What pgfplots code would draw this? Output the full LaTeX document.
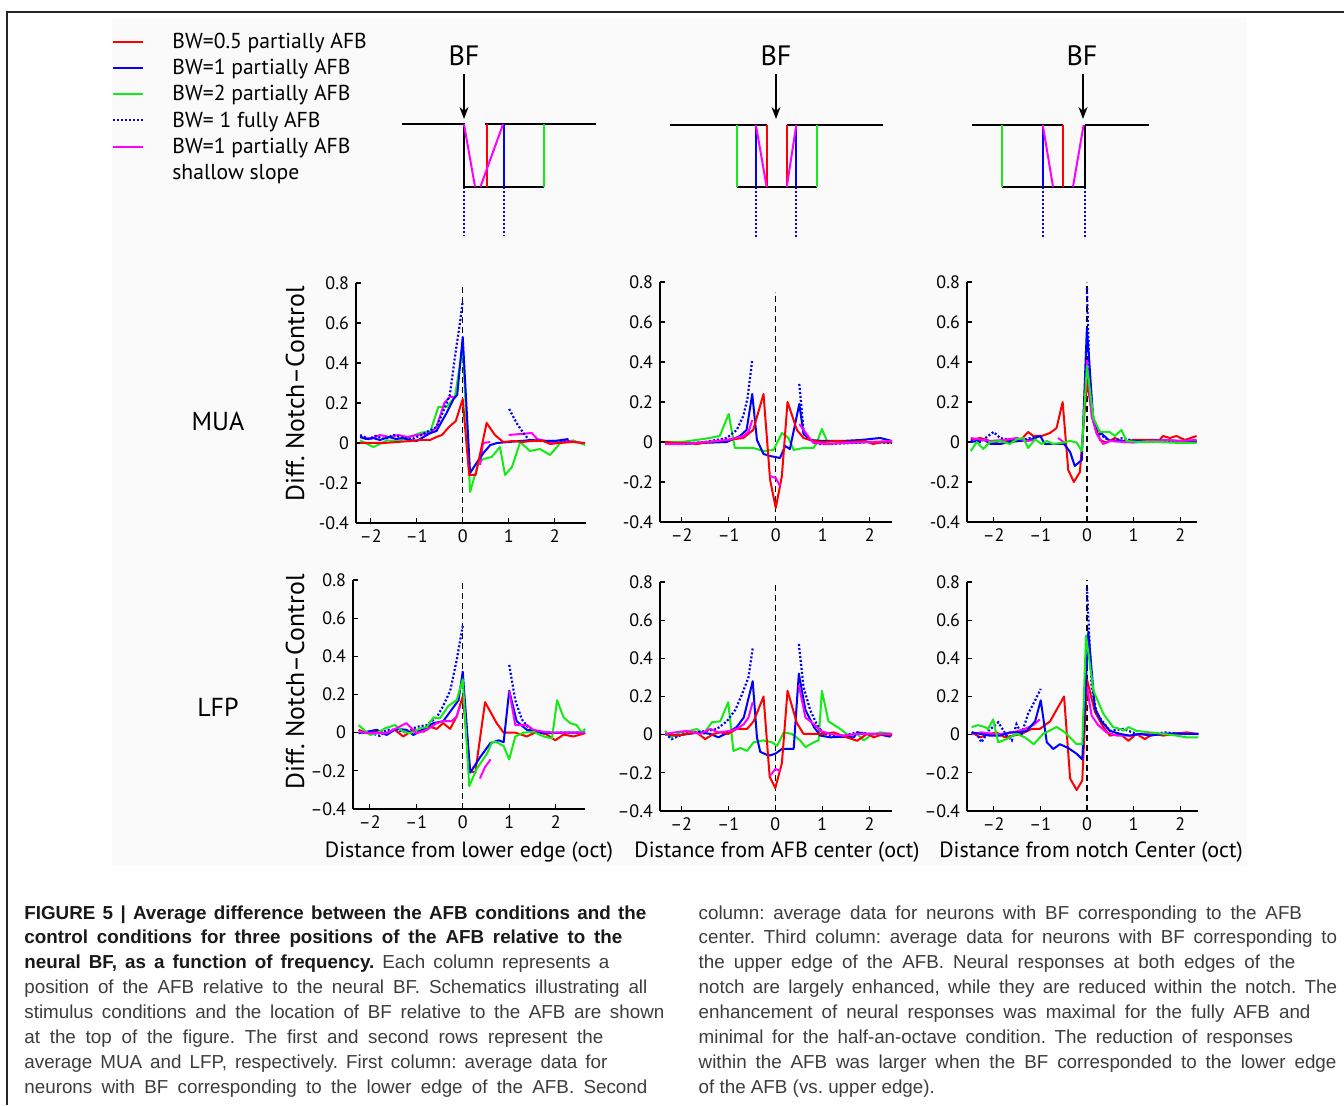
\documentclass[border=0pt]{standalone}
\usepackage{fontspec}
\setmainfont{PT Sans}
\newfontfamily\capfont{Liberation Sans}
\usepackage{pgfplots}
\pgfplotsset{compat=1.18}
\usetikzlibrary{arrows.meta}
\definecolor{cR}{RGB}{255,0,0}
\definecolor{cB}{RGB}{0,0,255}
\definecolor{cG}{RGB}{20,235,20}
\definecolor{cM}{RGB}{255,0,255}
\definecolor{bgfig}{RGB}{250,250,250}
\definecolor{capgray}{RGB}{60,60,60}
\pgfplotsset{
  panel/.style={scale only axis, anchor=south west, axis lines*=left,
    ymin=-0.4, ymax=0.8, ytick={-0.4,-0.2,0,0.2,0.4,0.6,0.8},
    xtick={-2,-1,0,1,2}, xticklabels={–2,–1,0,1,2},
    tick align=inside, major tick length=2.5pt,
    every tick/.style={black,line width=0.6pt},
    axis line style={black,line width=0.75pt},
    tick label style={font=\fontsize{9}{10}\selectfont},
    unbounded coords=jump, clip=false},
  r1/.style={panel, yticklabels={-0.4,-0.2,0,0.2,0.4,0.6,0.8}},
  r2/.style={panel, yticklabels={–0.4,–0.2,0,0.2,0.4,0.6,0.8}},
  sR/.style={cR, line width=1pt, line join=round},
  sB/.style={cB, line width=1pt, line join=round},
  sG/.style={cG, line width=1pt, line join=round},
  sM/.style={cM, line width=1pt, line join=round},
  sD/.style={cB, line width=1.1pt, dash pattern=on 1pt off 1pt},
  zl/.style={black, line width=0.6pt, dash pattern=on 3pt off 2pt},
}
\begin{document}
\frenchspacing
\begin{tikzpicture}[x=0.5pt,y=0.5pt]
\useasboundingbox (0,0) rectangle (1344,1105);
\fill[bgfig] (112,239) rectangle (1247,1087);
\draw[line width=1.2pt, black!85] (7,0) -- (7,1093) -- (1344,1093);

% ---------- legend ----------
\draw[cR, line width=1pt] (113,1063.3) -- (143,1063.3);
\draw[cB, line width=1pt] (113,1037.05) -- (143,1037.05);
\draw[cG, line width=1pt] (113,1010.8) -- (143,1010.8);
\draw[cB, line width=1pt, dash pattern=on 1pt off 1pt] (113,984.55) -- (143,984.55);
\draw[cM, line width=1pt] (113,958.3) -- (143,958.3);
\begin{scope}[every node/.style={anchor=base west, inner sep=0, font=\fontsize{10.8}{12}\selectfont}]
\node at (172,1056.6) {BW=0.5 partially AFB};
\node at (172,1030.35) {BW=1 partially AFB};
\node at (172,1004.1) {BW=2 partially AFB};
\node at (172,977.85) {BW= 1 fully AFB};
\node at (172,951.6) {BW=1 partially AFB};
\node at (172,925.35) {shallow slope};
\end{scope}

% ---------- schematics ----------
\begin{scope}[line width=1pt]
% 1: lower edge
\draw[cB, dash pattern=on 1pt off 1pt] (464,918.3) -- (464,869) (504.3,918.3) -- (504.3,869);
\draw[black] (402.4,980.7) -- (464,980.7) -- (464,918.3) -- (544,918.3);
\draw[black] (485,980.7) -- (596.3,980.7);
\draw[cR] (486.6,918.3) -- (486.6,980.7);
\draw[cB] (504.3,918.3) -- (504.3,980.7);
\draw[cG] (544,918.3) -- (544,980.7);
\draw[cM] (464,980.7) -- (475,918.3) (480.5,918.3) -- (503,980.7);
% 2: center
\draw[cB, dash pattern=on 1pt off 1pt] (755.9,918.3) -- (755.9,868) (796.3,918.3) -- (796.3,868);
\draw[black] (670,980) -- (766.6,980) (786.8,980) -- (883.4,980) (737.4,918.3) -- (816.5,918.3);
\draw[cG] (737.4,918.3) -- (737.4,980) (816.5,918.3) -- (816.5,980);
\draw[cB] (755.9,918.3) -- (755.9,980) (796.3,918.3) -- (796.3,980);
\draw[cR] (766.6,918.3) -- (766.6,980) (786.8,918.3) -- (786.8,980);
\draw[cM] (755.9,980) -- (766.6,918.3) (786.8,918.3) -- (796.3,980);
% 3: upper edge
\draw[cB, dash pattern=on 1pt off 1pt] (1042.8,918.3) -- (1042.8,868) (1084.5,918.3) -- (1084.5,868);
\draw[black] (972.3,980) -- (1063,980) (1084.5,980) -- (1148.8,980);
\draw[black] (1001.5,918.3) -- (1084.5,918.3) -- (1084.5,980);
\draw[cG] (1001.5,918.3) -- (1001.5,980);
\draw[cB] (1042.8,918.3) -- (1042.8,980);
\draw[cR] (1062.5,918.3) -- (1062.5,980);
\draw[cM] (1042.8,980) -- (1053,918.3) (1073,918.3) -- (1083.6,980);
\end{scope}
\begin{scope}[every node/.style={font=\fontsize{14}{15}\selectfont, inner sep=0}]
\node at (464,1049) {BF};
\node at (776,1049) {BF};
\node at (1082,1049) {BF};
\end{scope}
\draw[-{Stealth[length=6pt,width=4.5pt]}, line width=0.7pt] (464,1031) -- (464,986);
\draw[-{Stealth[length=6pt,width=4.5pt]}, line width=0.7pt] (776,1031) -- (776,986);
\draw[-{Stealth[length=6pt,width=4.5pt]}, line width=0.7pt] (1083,1031) -- (1083,986);

% ---------- row / axis labels ----------
\node[font=\fontsize{13}{14}\selectfont] at (218,683.5) {MUA};
\node[font=\fontsize{13}{14}\selectfont] at (218,397.5) {LFP};
\node[rotate=90, font=\fontsize{12.9}{14}\selectfont] at (295,711) {Diff. Notch–Control};
\node[rotate=90, font=\fontsize{12.9}{14}\selectfont] at (295,423) {Diff. Notch–Control};
\node[font=\fontsize{11}{12}\selectfont] at (469,253) {Distance from lower edge (oct)};
\node[font=\fontsize{11}{12}\selectfont] at (777,253) {Distance from AFB center (oct)};
\node[font=\fontsize{11}{12}\selectfont] at (1091,253) {Distance from notch Center (oct)};

% ---------- P1 MUA lower edge ----------
\begin{axis}[r1, at={(178pt,291pt)}, width=115pt, height=120pt, xmin=-2.32, xmax=2.68]
\addplot[zl] coordinates {(0,-0.4) (0,0.78)};
\addplot[sG] coordinates {(-2.23,0.013) (-1.94,-0.02) (-1.65,0.013) (-1.4,0.01) (-1.15,0.03) (-0.93,0.05) (-0.7,0.06) (-0.53,0.18) (-0.35,0.18) (-0.17,0.23) (0,0.48) (0.16,-0.245) (0.34,-0.1) (0.45,-0.08) (0.63,-0.07) (0.81,-0.02) (0.92,-0.16) (1.07,-0.12) (1.25,0.005) (1.46,-0.04) (1.68,-0.03) (1.9,-0.06) (2.12,0) (2.4,0.013) (2.66,-0.01)};
\addplot[sM] coordinates {(-2.23,0.03) (-2.0,0.02) (-1.8,0.04) (-1.6,0.03) (-1.4,0.04) (-1.2,0.03) (-1.0,0.04) (-0.7,0.05) (-0.57,0.08) (-0.4,0.2) (-0.28,0.23) (-0.17,0.23) (0.1,nan) (0.38,-0.11) (0.44,0.0) (0.6,0.005) (0.8,nan) (1.0,0.04) (1.25,0.045) (1.5,0.05) (1.62,0.02) (1.8,0.01) (2.0,0.0) (2.3,0.01) (2.6,0.0)};
\addplot[sD] coordinates {(-2.23,0.04) (-2.05,0.02) (-1.9,0.035) (-1.7,0.02) (-1.5,0.04) (-1.3,0.025) (-1.1,0.02) (-0.9,0.04) (-0.57,0.08) (-0.42,0.16) (-0.28,0.24) (-0.17,0.43) (-0.06,0.6) (0,0.71) (0.5,nan) (1.01,0.17) (1.17,0.1) (1.32,0.05) (1.46,0.01) (1.7,0.01) (2.0,0.01) (2.3,0.01)};
\addplot[sB] coordinates {(-2.23,0.03) (-2.1,0.02) (-1.95,0.025) (-1.8,0.015) (-1.6,0.03) (-1.45,0.02) (-1.3,0.025) (-1.15,0.015) (-1.0,0.01) (-0.85,0.03) (-0.7,0.05) (-0.57,0.06) (-0.45,0.11) (-0.35,0.15) (-0.2,0.22) (-0.12,0.24) (0,0.53) (0.16,-0.15) (0.3,-0.1) (0.45,-0.05) (0.6,-0.01) (0.75,0) (1.0,0.005) (1.25,0.01) (1.5,0.015) (1.75,0.01) (2.0,0.01) (2.3,0.02)};
\addplot[sR] coordinates {(-2.23,0) (-2.01,0) (-1.72,0) (-1.43,0.005) (-1.14,0.01) (-0.93,0.015) (-0.71,0.015) (-0.57,0.03) (-0.45,0.04) (-0.3,0.08) (-0.15,0.11) (0,0.22) (0.14,-0.16) (0.28,-0.16) (0.52,0.1) (0.7,0.04) (0.88,0.005) (1.1,0.01) (1.3,0.005) (1.5,0.01) (1.75,0.01) (1.9,-0.005) (2.1,0) (2.4,0.005) (2.66,0)};
\end{axis}

% ---------- P2 MUA center ----------
\begin{axis}[r1, at={(330pt,291.5pt)}, width=116pt, height=120pt, xmin=-2.46, xmax=2.47]
\addplot[zl] coordinates {(0,-0.4) (0,0.75)};
\addplot[sG] coordinates {(-2.35,0) (-2.0,0) (-1.54,0.015) (-1.4,0.02) (-1.19,0.03) (-1.0,0.14) (-0.87,-0.03) (-0.7,-0.03) (-0.48,-0.03) (-0.26,-0.045) (-0.05,-0.04) (0.13,0.045) (0.27,0.02) (0.38,-0.04) (0.59,-0.03) (0.8,-0.03) (0.87,-0.005) (0.98,0.065) (1.09,0.005) (1.4,0.0) (1.7,-0.005) (2.0,0.0) (2.47,-0.005)};
\addplot[sD] coordinates {(-2.35,-0.01) (-2.0,-0.01) (-1.5,0.0) (-1.04,0.02) (-0.83,0.06) (-0.69,0.13) (-0.6,0.22) (-0.5,0.41) (0,nan) (0.5,0.29) (0.59,0.06) (0.73,0.01) (0.9,-0.01) (1.2,-0.01) (1.6,-0.005) (2.0,0.0) (2.47,-0.005)};
\addplot[sB] coordinates {(-2.35,-0.01) (-2.0,-0.01) (-1.6,-0.005) (-1.04,0.0) (-0.76,0.03) (-0.62,0.06) (-0.5,0.24) (-0.4,0.01) (-0.26,-0.06) (-0.12,-0.07) (0.09,-0.08) (0.2,-0.02) (0.3,-0.035) (0.5,0.19) (0.59,0.04) (0.73,0.01) (1.0,0.005) (1.4,0.005) (1.8,0.01) (2.22,0.02) (2.47,0.005)};
\addplot[sR] coordinates {(-2.35,0) (-2.1,-0.005) (-1.85,-0.005) (-1.68,-0.01) (-1.4,0) (-1.04,0.01) (-0.69,0.02) (-0.48,0.06) (-0.26,0.24) (-0.12,-0.19) (0,-0.33) (0.13,-0.17) (0.25,0.2) (0.45,0.06) (0.59,0.02) (0.8,0.005) (1.0,0.0) (1.3,0.005) (1.6,0.0) (1.9,0.005) (2.07,-0.01) (2.25,0.0) (2.47,0.0)};
\addplot[sM] coordinates {(-2.35,-0.01) (-2.0,-0.01) (-1.5,0) (-1.04,0.01) (-0.69,0.03) (-0.58,0.05) (-0.5,0.11) (-0.3,nan) (-0.12,-0.17) (0,-0.18) (0.09,-0.22) (0.3,nan) (0.5,0.09) (0.62,0.05) (0.8,-0.005) (1.1,-0.01) (1.5,-0.005) (2.0,0.0) (2.47,0.005)};
\end{axis}

% ---------- P3 MUA notch ----------
\begin{axis}[r1, at={(483.5pt,291.5pt)}, width=115pt, height=120pt, xmin=-2.57, xmax=2.36]
\addplot[zl] coordinates {(0,-0.4) (0,0.8)};
\addplot[sR] coordinates {(-2.49,0.01) (-2.29,0.02) (-2.08,0.005) (-1.86,-0.01) (-1.65,0.01) (-1.44,0.005) (-1.26,0.05) (-1.15,0.03) (-0.97,0.03) (-0.79,0.045) (-0.65,0.07) (-0.52,0.2) (-0.4,-0.14) (-0.28,-0.2) (-0.15,-0.15) (0,0.3) (0.14,0.11) (0.28,0.01) (0.42,-0.003) (0.6,0.02) (0.78,0.0) (1.0,0.01) (1.3,0.01) (1.56,0.01) (1.63,0.03) (1.78,0.02) (1.92,0.03) (2.1,0.01) (2.35,0.03)};
\addplot[sD] coordinates {(-2.49,0.005) (-2.29,0) (-2.0,0.05) (-1.86,0.02) (-1.65,0.01) (-1.4,0.01) (-1.22,0.02) (-1.0,0.03) (-0.5,nan) (0,0.77) (0.07,0.2) (0.2,0.05) (0.49,0.005) (0.78,0.02) (1.07,0.0) (1.4,0.0) (1.7,0.005) (2.0,0.0) (2.35,0.0)};
\addplot[sB] coordinates {(-2.49,0) (-2.2,0.01) (-2.06,-0.01) (-1.86,-0.01) (-1.65,0) (-1.44,0.005) (-1.22,0.01) (-1.0,0.03) (-0.9,-0.01) (-0.65,-0.01) (-0.49,-0.01) (-0.36,-0.05) (-0.26,-0.12) (-0.11,-0.09) (0,0.57) (0.14,0.1) (0.28,0.05) (0.49,0.005) (0.8,0.005) (1.2,0.005) (1.6,0.01) (2.0,0.005) (2.35,0.005)};
\addplot[sM] coordinates {(-2.49,0.02) (-2.36,0.015) (-2.08,0.005) (-1.8,0.01) (-1.5,0.02) (-1.3,0.005) (-1.1,0.01) (-0.8,nan) (-0.62,0.02) (-0.5,0.0) (-0.3,nan) (0,0.41) (0.1,0.13) (0.21,0.04) (0.35,-0.01) (0.49,0.005) (0.78,0.0) (1.0,-0.003) (1.3,0.005) (1.7,0.01) (2.0,0.005) (2.35,0.01)};
\addplot[sG] coordinates {(-2.49,-0.045) (-2.36,0) (-2.22,-0.035) (-2.08,0) (-1.86,0.005) (-1.65,-0.01) (-1.51,0.013) (-1.36,0.02) (-1.26,-0.03) (-1.11,0.013) (-0.97,-0.01) (-0.86,0.005) (-0.72,-0.01) (-0.51,-0.003) (-0.36,0.005) (-0.22,-0.003) (-0.11,-0.045) (0,0.38) (0.14,0.12) (0.28,0.05) (0.49,0.05) (0.6,0.03) (0.74,0.06) (0.85,0.005) (1.1,0.0) (1.5,0.0) (2.0,-0.005) (2.35,-0.005)};
\end{axis}

% ---------- P4 LFP lower edge ----------
\begin{axis}[r2, at={(176.5pt,148pt)}, width=116pt, height=114.5pt, xmin=-2.36, xmax=2.63]
\addplot[zl] coordinates {(0,-0.4) (0,0.79)};
\addplot[sR] coordinates {(-2.24,0.015) (-2.06,-0.003) (-1.85,0.005) (-1.64,-0.003) (-1.46,0.015) (-1.28,-0.02) (-1.06,0.015) (-0.84,0.005) (-0.7,0.03) (-0.56,0.02) (-0.42,0.05) (-0.27,0.02) (-0.13,0.085) (0,0.19) (0.16,-0.2) (0.27,-0.21) (0.48,0.16) (0.73,0.05) (0.88,0.0) (1.13,0.0) (1.38,-0.02) (1.59,0.005) (1.81,-0.01) (1.99,-0.04) (2.17,-0.01) (2.38,-0.02) (2.63,-0.003)};
\addplot[sD] coordinates {(-2.24,0.0) (-1.99,0.0) (-1.78,-0.017) (-1.64,0.015) (-1.43,0.015) (-1.21,0.0) (-1.0,0.03) (-0.77,0.04) (-0.56,0.08) (-0.42,0.14) (-0.27,0.22) (-0.13,0.38) (0,0.56) (0.5,nan) (1.0,0.355) (1.13,0.17) (1.27,0.07) (1.45,0.015) (1.59,0.0) (2.0,0.0) (2.63,0.0)};
\addplot[sB] coordinates {(-2.24,-0.003) (-2.06,0.005) (-1.85,0.015) (-1.64,-0.012) (-1.43,0.02) (-1.21,0.015) (-1.06,-0.012) (-0.84,0.02) (-0.63,0.05) (-0.42,0.06) (-0.24,0.12) (-0.09,0.17) (0,0.32) (0.16,-0.21) (0.37,-0.13) (0.59,-0.056) (0.77,-0.04) (0.88,-0.05) (1.0,0.22) (1.16,0.06) (1.38,0.015) (1.59,0.005) (1.81,-0.003) (2.1,0.0) (2.63,0.0)};
\addplot[sG] coordinates {(-2.24,0.04) (-2.13,0.015) (-1.99,-0.012) (-1.85,-0.003) (-1.67,0.023) (-1.46,0.04) (-1.28,0.005) (-1.13,-0.003) (-0.91,0.023) (-0.77,0.03) (-0.63,0.08) (-0.49,0.075) (-0.31,0.14) (-0.13,0.17) (0,0.28) (0.14,-0.28) (0.3,-0.19) (0.52,-0.11) (0.63,-0.05) (0.73,-0.05) (0.88,-0.07) (1.0,-0.14) (1.13,-0.02) (1.31,0.0) (1.52,0.005) (1.74,-0.02) (1.92,-0.03) (2.03,0.17) (2.17,0.08) (2.31,0.05) (2.45,0.04) (2.56,0.0) (2.63,0.02)};
\addplot[sM] coordinates {(-2.24,0.005) (-1.99,-0.003) (-1.64,-0.003) (-1.43,0.023) (-1.21,0.05) (-1.0,-0.003) (-0.77,0.015) (-0.56,0.05) (-0.42,0.06) (-0.24,0.06) (-0.13,0.085) (-0.06,0.14) (0.2,nan) (0.37,-0.24) (0.48,-0.18) (0.6,-0.14) (0.8,nan) (1.0,0.22) (1.13,0.04) (1.38,0.04) (1.52,0.015) (1.74,0.005) (2.0,0.0) (2.63,0.0)};
\end{axis}

% ---------- P5 LFP center ----------
\begin{axis}[r2, at={(330pt,147pt)}, width=116pt, height=114.5pt, xmin=-2.45, xmax=2.48]
\addplot[zl] coordinates {(0,-0.4) (0,0.79)};
\addplot[sG] coordinates {(-2.34,0.02) (-2.23,-0.014) (-2.02,0.012) (-1.81,0.02) (-1.67,0.03) (-1.52,0.004) (-1.35,0.065) (-1.17,0.07) (-1.0,0.17) (-0.89,-0.085) (-0.74,-0.07) (-0.6,-0.085) (-0.46,-0.04) (-0.25,-0.03) (-0.07,-0.04) (0.04,-0.058) (0.18,0.012) (0.35,0.004) (0.53,-0.03) (0.64,-0.065) (0.82,-0.04) (0.92,-0.03) (0.99,0.23) (1.13,0.07) (1.38,0.03) (1.56,-0.005) (1.74,0.004) (1.88,-0.03) (2.02,-0.005) (2.23,0.012) (2.48,0.004)};
\addplot[sD] coordinates {(-2.34,0.004) (-2.2,-0.023) (-1.95,0.004) (-1.7,0.012) (-1.45,0.02) (-1.24,0.03) (-1.03,0.07) (-0.85,0.13) (-0.71,0.21) (-0.57,0.3) (-0.48,0.455) (0,nan) (0.5,0.475) (0.6,0.25) (0.74,0.13) (0.89,0.05) (1.03,0.004) (1.24,-0.005) (1.45,-0.005) (1.74,0.012) (2.0,0.004) (2.48,0.004)};
\addplot[sB] coordinates {(-2.34,0.004) (-2.09,-0.005) (-1.84,0.004) (-1.6,0.012) (-1.38,0.004) (-1.21,-0.014) (-1.0,0.012) (-0.82,0.04) (-0.67,0.09) (-0.48,0.28) (-0.39,-0.014) (-0.32,-0.09) (-0.14,-0.11) (0,-0.1) (0.14,-0.075) (0.39,-0.075) (0.5,0.32) (0.64,0.13) (0.82,0.04) (0.96,-0.005) (1.17,-0.014) (1.38,-0.011) (1.67,-0.014) (1.74,0.012) (1.95,0.004) (2.16,0.004) (2.45,-0.011)};
\addplot[sR] coordinates {(-2.34,0.004) (-2.09,-0.005) (-1.88,0.004) (-1.67,0.012) (-1.49,-0.023) (-1.31,0.004) (-1.17,0.012) (-1.0,0.004) (-0.82,0.03) (-0.6,0.03) (-0.46,0.07) (-0.25,0.2) (-0.12,-0.22) (0,-0.28) (0.14,-0.15) (0.26,0.23) (0.46,0.06) (0.6,0.004) (0.82,0.004) (1.04,0.004) (1.24,0.012) (1.52,-0.014) (1.74,-0.032) (1.95,0.004) (2.09,-0.014) (2.3,0.004) (2.48,-0.005)};
\addplot[sM] coordinates {(-2.34,0.004) (-2.13,0.012) (-1.88,0.02) (-1.6,0.004) (-1.38,0.03) (-1.21,0.012) (-0.96,0.02) (-0.82,0.03) (-0.67,0.055) (-0.57,0.09) (-0.48,0.17) (-0.3,nan) (-0.11,-0.215) (0,-0.18) (0.11,-0.19) (0.3,nan) (0.5,0.26) (0.64,0.09) (0.82,0.055) (0.96,0.02) (1.17,0.004) (1.45,-0.005) (1.74,0.004) (2.0,0.004) (2.48,0.004)};
\end{axis}

% ---------- P6 LFP notch ----------
\begin{axis}[r2, at={(483.5pt,147pt)}, width=115.5pt, height=114.5pt, xmin=-2.57, xmax=2.38]
\addplot[zl] coordinates {(0,-0.4) (0,0.81)};
\addplot[sR] coordinates {(-2.47,0.012) (-2.29,-0.014) (-2.08,0.004) (-1.94,0.012) (-1.76,-0.014) (-1.58,-0.005) (-1.4,0.004) (-1.19,0.03) (-1.01,0.03) (-0.79,0.07) (-0.49,0.2) (-0.36,-0.23) (-0.22,-0.29) (-0.1,-0.24) (0,0.29) (0.17,0.12) (0.35,0.04) (0.49,-0.005) (0.71,0.004) (0.89,-0.032) (1.06,0.004) (1.24,-0.023) (1.42,0.004) (1.64,-0.005) (1.85,0.004) (2.14,0.012) (2.35,0.004)};
\addplot[sD] coordinates {(-2.47,0.012) (-2.36,0.004) (-2.26,-0.04) (-2.11,0.02) (-1.9,0.065) (-1.72,-0.005) (-1.61,-0.03) (-1.51,0.055) (-1.4,0.004) (-1.26,0.11) (-1.11,0.18) (-0.99,0.24) (-0.5,nan) (0,0.77) (0.1,0.25) (0.21,0.11) (0.49,0.02) (0.78,0.03) (1.06,0.004) (1.35,0.004) (1.71,0.012) (1.92,0.004) (2.39,0.004)};
\addplot[sM] coordinates {(-2.47,0.004) (-2.26,0.012) (-2.01,0.004) (-1.79,0.004) (-1.58,0.012) (-1.33,0.03) (-1.15,0.05) (-1.01,0.08) (-0.5,nan) (0,0.25) (0.1,0.1) (0.24,0.05) (0.42,0.012) (0.64,-0.005) (0.92,-0.005) (1.21,0.004) (1.64,0.004) (2.39,0.004)};
\addplot[sB] coordinates {(-2.47,0.012) (-2.29,0.004) (-2.08,-0.005) (-1.86,-0.005) (-1.65,0.012) (-1.44,0.012) (-1.29,0.02) (-1.11,0.07) (-0.99,0.18) (-0.86,-0.04) (-0.72,-0.075) (-0.58,-0.05) (-0.4,-0.07) (-0.22,-0.1) (-0.1,-0.13) (0.03,0.54) (0.17,0.14) (0.31,0.07) (0.49,0.02) (0.71,0.004) (0.92,-0.005) (1.14,0.004) (1.35,-0.005) (1.64,0.004) (1.92,0.007) (2.14,0.004) (2.39,0.004)};
\addplot[sG] coordinates {(-2.47,0.04) (-2.33,0.05) (-2.19,0.04) (-2.12,0.03) (-2.01,0.08) (-1.9,-0.04) (-1.72,-0.023) (-1.51,0.004) (-1.33,-0.014) (-1.14,-0.05) (-0.94,0.004) (-0.65,0.04) (-0.47,0.012) (-0.22,-0.05) (-0.1,-0.05) (-0.02,0.52) (0.14,0.23) (0.35,0.11) (0.56,0.04) (0.71,0.03) (0.79,0.02) (0.89,0.04) (1.06,0.02) (1.35,0.012) (1.64,0.004) (1.92,-0.005) (2.14,-0.014) (2.39,-0.014)};
\end{axis}

% ---------- caption ----------
\begin{scope}[every node/.style={anchor=base west, inner sep=0, text=capgray, font=\capfont\fontsize{9.4}{11}\selectfont}]
\node at (24,186) {\makebox[311pt][s]{\textbf{\color{black!90}FIGURE 5 | Average difference between the AFB conditions and the}}};
\node at (24,161.1) {\makebox[299pt][s]{\textbf{\color{black!90}control conditions for three positions of the AFB relative to the}}};
\node at (24,136.2) {\makebox[292.5pt][s]{\textbf{\color{black!90}neural BF, as a function of frequency.} Each column represents a}};
\node at (24,111.3) {\makebox[311.5pt][s]{position of the AFB relative to the neural BF. Schematics illustrating all}};
\node at (24,86.4) {\makebox[320pt][s]{stimulus conditions and the location of BF relative to the AFB are shown}};
\node at (24,61.5) {\makebox[289.5pt][s]{at the top of the figure. The first and second rows represent the}};
\node at (24,36.6) {\makebox[291.5pt][s]{average MUA and LFP, respectively. First column: average data for}};
\node at (24,11.7) {\makebox[311.5pt][s]{neurons with BF corresponding to the lower edge of the AFB. Second}};
\node at (698.3,186) {\makebox[301.7pt][s]{column: average data for neurons with BF corresponding to the AFB}};
\node at (698.3,161.1) {\makebox[319.2pt][s]{center. Third column: average data for neurons with BF corresponding to}};
\node at (698.3,136.2) {\makebox[298.4pt][s]{the upper edge of the AFB. Neural responses at both edges of the}};
\node at (698.3,111.3) {\makebox[319.2pt][s]{notch are largely enhanced, while they are reduced within the notch. The}};
\node at (698.3,86.4) {\makebox[305.9pt][s]{enhancement of neural responses was maximal for the fully AFB and}};
\node at (698.3,61.5) {\makebox[297.2pt][s]{minimal for the half-an-octave condition. The reduction of responses}};
\node at (698.3,36.6) {\makebox[318.9pt][s]{within the AFB was larger when the BF corresponded to the lower edge}};
\node at (698.3,11.7) {of the AFB (vs. upper edge).};
\end{scope}
\end{tikzpicture}
\end{document}
